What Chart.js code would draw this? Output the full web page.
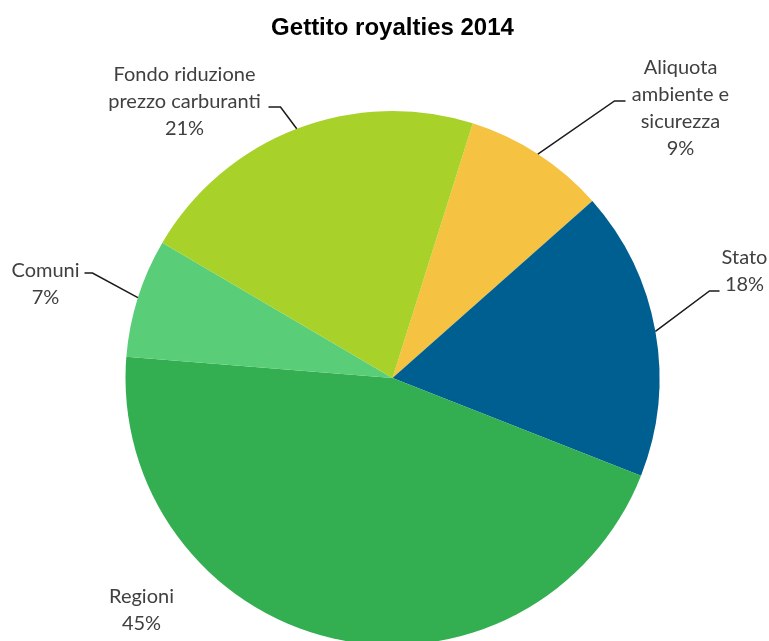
<!DOCTYPE html>
<html>
<head>
<meta charset="utf-8">
<script src="https://cdn.jsdelivr.net/npm/chart.js@4/dist/chart.umd.min.js"></script>
<style>
  html, body { margin: 0; padding: 0; background: #fff; overflow: hidden; }
  #wrap { width: 769px; height: 680px; }
</style>
</head>
<body>
<div id="wrap"><canvas id="pie"></canvas></div>
<script>
// Gettito royalties 2014 - ripartizione percentuale
const categories = ['Aliquota ambiente e sicurezza', 'Stato', 'Regioni', 'Comuni', 'Fondo riduzione prezzo carburanti'];
const shares = [8.6, 17.5, 45.3, 7.2, 21.4];
const labelLines = [
  ['Aliquota', 'ambiente e', 'sicurezza', '9%'],
  ['Stato', '18%'],
  ['Regioni', '45%'],
  ['Comuni', '7%'],
  ['Fondo riduzione', 'prezzo carburanti', '21%']
];
const colors = ['#F5C242', '#005F91', '#33AE50', '#5ACD78', '#A8D12A'];

// where each label sits, as offsets from the pie centre (text block centre, leader end, elbow)
const labelLayout = [
  { tx: 288, ty: -270, line: [222, -277, 233, -277] },
  { tx: 352, ty: -107, line: [317, -87, 327, -87] },
  { tx: -251, ty: 232, line: null },
  { tx: -347, ty: -94, line: [-300, -105, -308, -105] },
  { tx: -208, ty: -276, line: [-112, -271, -124, -271] }
];

const leaderLabels = {
  id: 'leaderLabels',
  afterDatasetsDraw(chart) {
    const ctx = chart.ctx;
    const arcs = chart.getDatasetMeta(0).data;
    ctx.save();
    ctx.font = '20px Lato, "Open Sans", sans-serif';
    ctx.fillStyle = '#404040';
    ctx.textAlign = 'center';
    ctx.textBaseline = 'middle';
    arcs.forEach((arc, i) => {
      const cx = arc.x, cy = arc.y;
      const lay = labelLayout[i];
      const lines = labelLines[i];
      const lh = 27;
      const top = cy + lay.ty - (lines.length - 1) * lh / 2;
      lines.forEach((t, k) => ctx.fillText(t, cx + lay.tx, top + k * lh));
      if (lay.line) {
        const mid = (arc.startAngle + arc.endAngle) / 2;
        const ex = cx + Math.cos(mid) * arc.outerRadius;
        const ey = cy + Math.sin(mid) * arc.outerRadius;
        ctx.beginPath();
        ctx.strokeStyle = '#1a1a1a';
        ctx.lineWidth = 1.5;
        ctx.moveTo(ex, ey);
        ctx.lineTo(cx + lay.line[0], cy + lay.line[1]);
        ctx.lineTo(cx + lay.line[2], cy + lay.line[3]);
        ctx.stroke();
      }
    });
    ctx.restore();
  }
};

new Chart(document.getElementById('pie'), {
  type: 'pie',
  data: {
    labels: categories,
    datasets: [{
      data: shares,
      backgroundColor: colors,
      borderWidth: 0
    }]
  },
  options: {
    responsive: true,
    maintainAspectRatio: false,
    animation: false,
    rotation: 17.5,
    layout: { padding: { top: 0, bottom: 35, left: 16, right: 0 } },
    plugins: {
      legend: { display: false },
      tooltip: { enabled: false },
      title: {
        display: true,
        text: 'Gettito royalties 2014',
        color: '#000',
        font: { family: '"Liberation Sans", Arial, sans-serif', size: 24, weight: 'bold', lineHeight: 1.2 },
        padding: { top: 14, bottom: 68.2 }
      }
    }
  },
  plugins: [leaderLabels]
});
</script>
</body>
</html>
